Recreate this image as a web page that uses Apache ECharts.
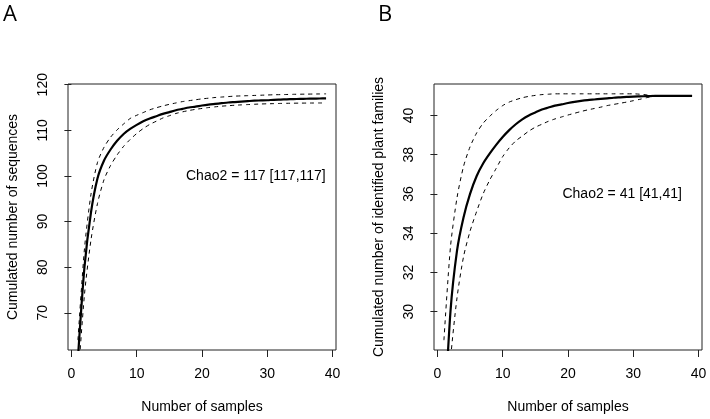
<!DOCTYPE html>
<html>
<head>
<meta charset="utf-8">
<script src="https://cdn.jsdelivr.net/npm/echarts@6/dist/echarts.min.js"></script>
<style>
html,body{margin:0;padding:0;background:#fff;}
#c{width:710px;height:419px;}
</style>
</head>
<body>
<div id="c"></div>
<script>
// ---- data ----
const samples = [1,2,3,4,5,6,7,8,9,10,11,12,13,14,15,16,17,18,19,20,21,22,23,24,25,26,27,28,29,30,31,32,33,34,35,36,37,38,39];

const seqMean = [60,80,92,99.5,103.4,105.8,107.7,109.2,110.3,111.2,112,112.6,113.1,113.6,114,114.4,114.7,115,115.2,115.45,115.65,115.8,115.95,116.1,116.2,116.3,116.4,116.5,116.55,116.6,116.7,116.75,116.8,116.85,116.9,116.93,116.96,116.98,117];
const seqUpper = [64,84,96,103,106.3,108.5,110.1,111.4,112.6,113.3,113.9,114.5,114.95,115.35,115.7,116,116.3,116.5,116.7,116.9,117.05,117.2,117.3,117.4,117.5,117.55,117.6,117.65,117.7,117.75,117.8,117.83,117.86,117.9,117.92,117.94,117.96,117.98,118];
const seqLower = [55,74,86,94,99.2,102.3,104.6,106.5,108,109.3,110.4,111.3,112,112.7,113.2,113.7,114.05,114.35,114.6,114.8,115,115.15,115.3,115.4,115.5,115.58,115.65,115.72,115.78,115.82,115.86,115.9,115.93,115.95,115.97,115.98,115.99,116,116];

const famMean = [24,30,33.1,34.8,36,36.9,37.55,38.05,38.5,38.9,39.25,39.55,39.8,40,40.15,40.3,40.4,40.5,40.56,40.63,40.69,40.74,40.78,40.81,40.84,40.87,40.9,40.92,40.94,40.96,40.97,40.98,40.99,41,41,41,41,41,41];
const famUpper = [28.55,33.3,35.8,37.4,38.4,39.1,39.6,39.95,40.25,40.5,40.68,40.8,40.9,40.97,41.02,41.06,41.08,41.1,41.1,41.1,41.1,41.1,41.1,41.1,41.1,41.1,41.1,41.1,41.1,41.1,41.08,41.05,41.02,41,41,41,41,41,41];
const famLower = [22,27.5,30.7,32.8,34.1,35.1,36,36.7,37.3,37.9,38.35,38.7,38.95,39.2,39.4,39.55,39.7,39.82,39.92,40.02,40.11,40.2,40.28,40.35,40.42,40.5,40.56,40.62,40.68,40.75,40.82,40.9,40.97,41,41,41,41,41,41];

const xTicks = [0,10,20,30,40];
const yTicksA = [70,80,90,100,110,120];
const yTicksB = [30,32,34,36,38,40];

const panelLetters = ['A','B'];
const xTitle = 'Number of samples';
const yTitleA = 'Cumulated number of sequences';
const yTitleB = 'Cumulated number of identified plant families';
const noteA = 'Chao2 = 117 [117,117]';
const noteB = 'Chao2 = 41 [41,41]';
const notePosA = [28.25, 100];
const notePosB = [28.3, 36];

// ---- chart ----
const FONT = '"Liberation Sans", Arial, sans-serif';
const zip = (xs, ys) => xs.map((x, i) => [x, ys[i]]);

function xAxisCfg(gi) {
  return {
    type: 'value', gridIndex: gi, min: -0.52, max: 40.52,
    name: xTitle, nameLocation: 'middle', nameGap: 50,
    nameTextStyle: {fontFamily: FONT, fontSize: 14, color: '#000'},
    axisLine: {show: false},
    axisTick: {show: true, length: 7, customValues: xTicks, lineStyle: {color: '#222'}},
    axisLabel: {customValues: xTicks, margin: 17, fontFamily: FONT, fontSize: 14, color: '#000'},
    splitLine: {show: false}
  };
}
function yAxisCfg(gi, mn, mx, ticks, title) {
  return {
    type: 'value', gridIndex: gi, min: mn, max: mx,
    name: title, nameLocation: 'middle', nameGap: 48,
    nameTextStyle: {fontFamily: FONT, fontSize: 14, color: '#000'},
    axisLine: {show: false},
    axisTick: {show: true, length: 7, customValues: ticks, lineStyle: {color: '#222'}},
    axisLabel: {customValues: ticks, rotate: 90, margin: 18, fontFamily: FONT, fontSize: 14, color: '#000'},
    splitLine: {show: false}
  };
}
function lineSeries(gi, ys, solid) {
  return {
    type: 'line', xAxisIndex: gi, yAxisIndex: gi,
    data: zip(samples, ys), showSymbol: false, symbol: 'none', clip: true,
    smooth: 0.25, silent: true, animation: false,
    lineStyle: solid ? {color: '#000', width: 2.2} : {color: '#000', width: 1, type: [4, 4]}
  };
}

const chart = echarts.init(document.getElementById('c'), null, {renderer: 'canvas'});
chart.setOption({
  animation: false,
  backgroundColor: '#fff',
  grid: [
    {left: 68, right: 374, top: 84, bottom: 69, show: true, borderColor: '#222', borderWidth: 1, backgroundColor: 'transparent'},
    {left: 434, right: 8, top: 84, bottom: 69, show: true, borderColor: '#222', borderWidth: 1, backgroundColor: 'transparent'}
  ],
  xAxis: [xAxisCfg(0), xAxisCfg(1)],
  yAxis: [
    yAxisCfg(0, 61.84, 120.16, yTicksA, yTitleA),
    yAxisCfg(1, 28.05, 41.6, yTicksB, yTitleB)
  ],
  series: [
    lineSeries(0, seqUpper, false),
    lineSeries(0, seqLower, false),
    lineSeries(0, seqMean, true),
    lineSeries(1, famUpper, false),
    lineSeries(1, famLower, false),
    lineSeries(1, famMean, true)
  ]
});

const pA = chart.convertToPixel({xAxisIndex: 0, yAxisIndex: 0}, notePosA);
const pB = chart.convertToPixel({xAxisIndex: 1, yAxisIndex: 1}, notePosB);
chart.setOption({
  graphic: [
    {type: 'text', left: 3, top: 4, style: {text: panelLetters[0], font: '22px "Open Sans", sans-serif', fill: '#000'}},
    {type: 'text', left: 378, top: 4, style: {text: panelLetters[1], font: '22px "Open Sans", sans-serif', fill: '#000'}},
    {type: 'text', x: pA[0], y: pA[1], style: {text: noteA, font: '14px ' + FONT, fill: '#000', align: 'center', verticalAlign: 'middle'}},
    {type: 'text', x: pB[0], y: pB[1], style: {text: noteB, font: '14px ' + FONT, fill: '#000', align: 'center', verticalAlign: 'middle'}}
  ]
});
</script>
</body>
</html>
